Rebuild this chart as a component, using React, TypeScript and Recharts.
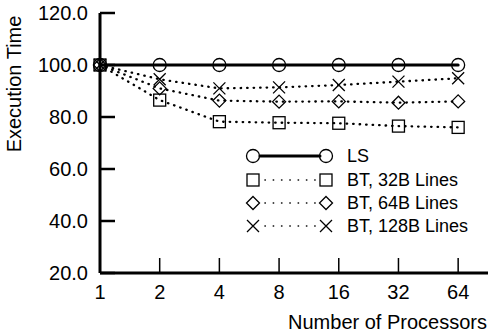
import React from 'react';
import { LineChart, Line, XAxis, YAxis } from 'recharts';

// x positions are log2(processors), ticks shown as processor counts
const procLog = [0, 1, 2, 3, 4, 5, 6];
const procLabels = ['1', '2', '4', '8', '16', '32', '64'];
const yTicks = [20, 40, 60, 80, 100, 120];

const ls = [100, 100, 100, 100, 100, 100, 100];
const bt32 = [100, 86.5, 78.2, 77.8, 77.6, 76.5, 76];
const bt64 = [100, 91, 86.3, 85.9, 86, 85.5, 86];
const bt128 = [100, 94.5, 91, 91.4, 92.3, 93.6, 94.9];

const data = procLog.map((x, i) => ({
  x,
  ls: ls[i],
  bt32: bt32[i],
  bt64: bt64[i],
  bt128: bt128[i],
}));

const FONT = '"Liberation Sans", Arial, sans-serif';
const PLOT_LEFT = 100;
const PLOT_BOTTOM = 273;

type Shape = 'circle' | 'square' | 'diamond' | 'cross';

function Marker({ cx, cy, shape }: { cx: number; cy: number; shape: Shape }) {
  if (cx == null || cy == null) return null;
  const p = { fill: 'none', stroke: '#000', strokeWidth: 1.3 };
  if (shape === 'circle') return <circle cx={cx} cy={cy} r={6.5} {...p} />;
  if (shape === 'square') return <rect x={cx - 6} y={cy - 6} width={12} height={12} {...p} />;
  if (shape === 'diamond')
    return <path d={`M${cx},${cy - 6.5}L${cx + 6.5},${cy}L${cx},${cy + 6.5}L${cx - 6.5},${cy}Z`} {...p} />;
  return <path d={`M${cx - 6},${cy - 6}L${cx + 6},${cy + 6}M${cx + 6},${cy - 6}L${cx - 6},${cy + 6}`} {...p} />;
}

const series = [
  { key: 'ls', name: 'LS', shape: 'circle' as Shape, dash: undefined, width: 3 },
  { key: 'bt32', name: 'BT, 32B Lines', shape: 'square' as Shape, dash: '0.5 6', width: 2.3 },
  { key: 'bt64', name: 'BT, 64B Lines', shape: 'diamond' as Shape, dash: '0.5 6', width: 2.3 },
  { key: 'bt128', name: 'BT, 128B Lines', shape: 'cross' as Shape, dash: '0.5 6', width: 2.3 },
];

const legendRows = [156, 180, 203, 226];

function YTick(props: any) {
  const { y, payload } = props;
  return (
    <g>
      <line x1={PLOT_LEFT} x2={PLOT_LEFT + 15} y1={y} y2={y} stroke="#000" strokeWidth={2.5} />
      <text x={88} y={y} dy="0.36em" textAnchor="end" fontSize={20} fontFamily={FONT} fill="#000">
        {payload.value.toFixed(1)}
      </text>
    </g>
  );
}

function XTick(props: any) {
  const { x, payload } = props;
  return (
    <g>
      {payload.value > 0 && (
        <line x1={x} x2={x} y1={PLOT_BOTTOM} y2={PLOT_BOTTOM - 15} stroke="#000" strokeWidth={1.5} />
      )}
      <text x={x} y={299} textAnchor="middle" fontSize={20} fontFamily={FONT} fill="#000">
        {procLabels[payload.value]}
      </text>
    </g>
  );
}

export default function App() {
  return (
    <div style={{ position: 'absolute', left: 0, top: 0, width: 489, height: 332, background: '#fff' }}>
      <LineChart width={489} height={332} data={data} margin={{ top: 13, right: 1, bottom: 0, left: 0 }}>
        <XAxis
          type="number"
          dataKey="x"
          domain={[0, 6.5]}
          ticks={procLog}
          height={59}
          axisLine={{ stroke: '#000', strokeWidth: 3 }}
          tickLine={false}
          tick={<XTick />}
        />
        <YAxis
          type="number"
          domain={[20, 120]}
          ticks={yTicks}
          width={100}
          axisLine={{ stroke: '#000', strokeWidth: 3 }}
          tickLine={false}
          tick={<YTick />}
        />
        {series.map((s) => (
          <Line
            key={s.key}
            dataKey={s.key}
            stroke="#000"
            strokeWidth={s.width}
            strokeDasharray={s.dash}
            strokeLinecap="round"
            isAnimationActive={false}
            dot={(p: any) => <Marker key={`${s.key}-${p.index}`} cx={p.cx} cy={p.cy} shape={s.shape} />}
            activeDot={false}
          />
        ))}
      </LineChart>
      <svg width={489} height={332} style={{ position: 'absolute', left: 0, top: 0, pointerEvents: 'none' }}>
        <text
          transform="translate(21,84) rotate(-90)"
          textAnchor="middle"
          fontSize={20}
          fontFamily={FONT}
          fill="#000"
        >
          Execution Time
        </text>
        <text x={487} y={329} textAnchor="end" fontSize={20} fontFamily={FONT} fill="#000">
          Number of Processors
        </text>
        {series.map((s, i) => {
          const y = legendRows[i];
          return (
            <g key={s.key}>
              <line
                x1={s.dash ? 265 : 260}
                x2={320}
                y1={y}
                y2={y}
                stroke="#000"
                strokeWidth={s.dash ? 1.6 : 3}
                strokeLinecap="round"
                strokeDasharray={s.dash ? '0.3 8' : undefined}
              />
              <Marker cx={253} cy={y} shape={s.shape} />
              <Marker cx={326} cy={y} shape={s.shape} />
              <text x={347} y={y} dy="0.36em" fontSize={18} fontFamily={FONT} fill="#000">
                {s.name}
              </text>
            </g>
          );
        })}
      </svg>
    </div>
  );
}
